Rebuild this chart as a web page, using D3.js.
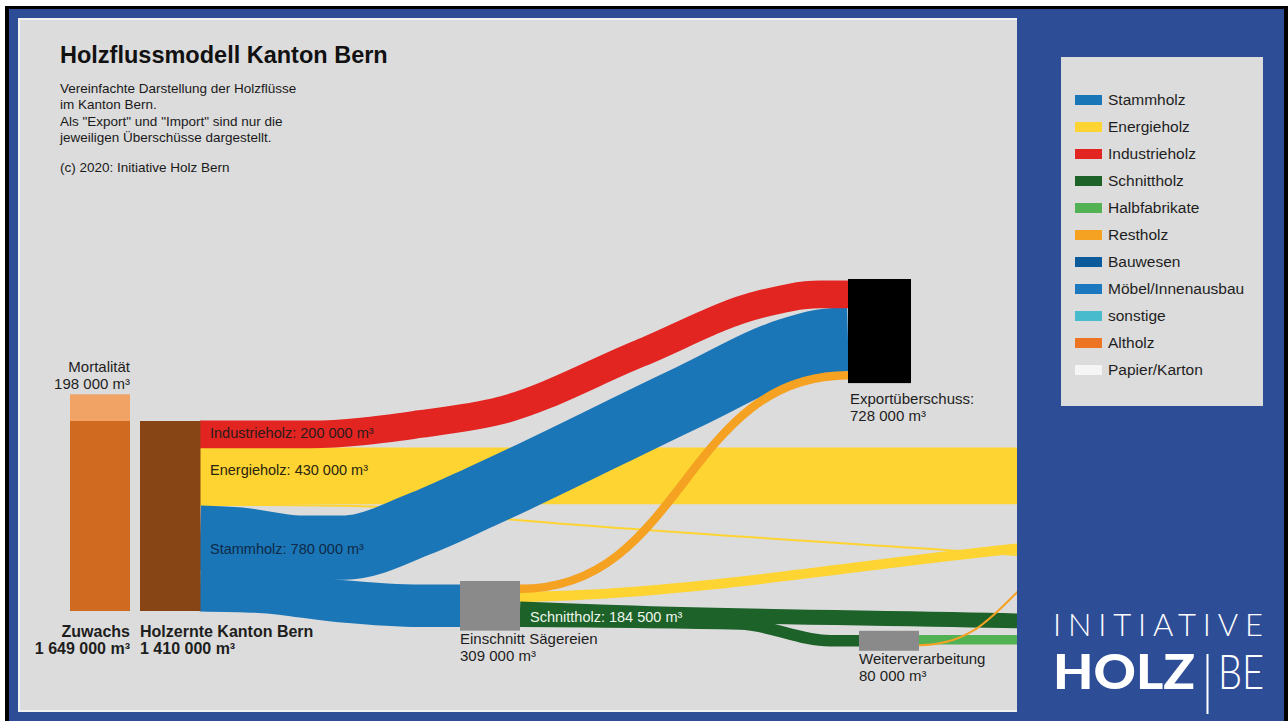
<!DOCTYPE html>
<html><head><meta charset="utf-8">
<script src="https://cdn.jsdelivr.net/npm/d3@7/dist/d3.min.js"></script>
<style>html,body{margin:0;padding:0;background:#fff;overflow:hidden}</style>
</head><body>
<svg id="c" width="1288" height="721"></svg>
<script>
// ---------------- DATA ----------------
const titleText = "Holzflussmodell Kanton Bern";
const subtitleLines = ["Vereinfachte Darstellung der Holzflüsse", "im Kanton Bern.", "Als \"Export\" und \"Import\" sind nur die", "jeweiligen Überschüsse dargestellt."];
const creditText = "(c) 2020: Initiative Holz Bern";

const nodeIds    = ["zuwachs", "ernte", "saege", "weiter", "export"];
const nodeNames  = ["Zuwachs", "Holzernte Kanton Bern", "Einschnitt Sägereien", "Weiterverarbeitung", "Exportüberschuss:"];
const nodeValues = [1649000, 1410000, 309000, 80000, 728000];
const mortalityLabel = "Mortalität";
const mortalityValue = 198000;

const flowSources    = ["ernte", "ernte", "ernte", "ernte", "ernte", "saege", "saege", "saege", "saege", "weiter", "weiter"];
const flowTargets    = ["export", "out", "out", "export", "saege", "export", "out", "out", "weiter", "out", "out"];
const flowCategories = ["Industrieholz", "Energieholz", "Energieholz", "Stammholz", "Stammholz", "Restholz", "Energieholz", "Schnittholz", "Schnittholz", "Halbfabrikate", "Restholz"];
const flowValues     = [200000, 415000, 15000, 471000, 309000, 57000, 67500, 104500, 80000, 65000, 15000];

const legendLabels = ["Stammholz", "Energieholz", "Industrieholz", "Schnittholz", "Halbfabrikate", "Restholz", "Bauwesen", "Möbel/Innenausbau", "sonstige", "Altholz", "Papier/Karton"];
const legendColors = ["#1b76b8", "#fdd431", "#e32522", "#1d6229", "#52b153", "#f5a122", "#0b5a9c", "#1c78be", "#48bccc", "#ec7422", "#f5f5f5"];

// ---------------- LAYOUT ----------------
const FONT = "'Liberation Sans', Arial, Helvetica, sans-serif";
const colorOf = d3.scaleOrdinal().domain(legendLabels).range(legendColors);
const thick = d3.scaleLinear().domain([0, 1410000]).range([0, 190]);
const fmtNum = d3.formatLocale({decimal: ".", thousands: " ", grouping: [3], currency: ["", ""]}).format(",d");
const vol = v => fmtNum(v) + " m³";
const val = id => nodeValues[nodeIds.indexOf(id)];
const name = id => nodeNames[nodeIds.indexOf(id)];

const baseY = 611;
const nodeBox = {
  zuwachs: {x: 70,  w: 60},
  ernte:   {x: 140, w: 60},
  saege:   {x: 460, w: 60, port: 585,   padT: 4,   padB: 4},
  weiter:  {x: 859, w: 60, port: 635.4, padT: 4.6, padB: 4.6},
  export:  {x: 848, w: 63, port: 281,   padT: 2,   padB: 4}
};
nodeBox.ernte.port = baseY - thick(val("ernte"));

// route shapes (x position, fraction of way from source level to target level)
const routes = [
  {knots: [[310, 0], [420, 0.074], [500, 0.17], [640, 0.58], [760, 0.93], [820, 1]]},
  {end: [1100, 0]},
  {end: [1100, 56], knots: [[300, 0.005], [370, 0.03], [505, 0.251], [1017, 0.893]]},
  {knots: [[240, -0.01], [300, -0.05], [345, -0.05], [420, 0.07], [480, 0.204], [690, 0.714], [790, 0.949], [825, 0.994]]},
  {knots: [[260, 0.1], [340, 0.7], [420, 1]]},
  {bump: true},
  {end: [1100, -57], knots: [[570, 0.031], [1017, 0.855]]},
  {end: [1100, 14], knots: [[600, 0.225], [1017, 0.859]]},
  {knots: [[740, 0.14], [830, 1]]},
  {end: [1100, 0]},
  {end: [1100, -91], bump: true}
];
const drawOrder = [2, 1, 4, 3, 0, 6, 7, 8, 5, 9, 10];

// ---------------- DRAW ----------------
const svg = d3.select("#c");
svg.append("rect").attr("width", 1288).attr("height", 721).attr("fill", "#fff");
svg.append("rect").attr("x", 5).attr("y", 6).attr("width", 1283).attr("height", 715).attr("fill", "#000");
svg.append("rect").attr("x", 9).attr("y", 9).attr("width", 1275).attr("height", 712).attr("fill", "#2e4d97");
svg.append("rect").attr("x", 18).attr("y", 18).attr("width", 999).attr("height", 694).attr("fill", "#f0f0f0");
svg.append("rect").attr("x", 20).attr("y", 20).attr("width", 997).attr("height", 690).attr("fill", "#dcdcdc");

svg.append("defs").append("clipPath").attr("id", "panel")
  .append("rect").attr("x", 20).attr("y", 20).attr("width", 997).attr("height", 690);

// title block
svg.append("text").attr("x", 60).attr("y", 63).attr("font-family", FONT).attr("font-size", 23.5)
  .attr("font-weight", "bold").attr("fill", "#111").text(titleText);
svg.append("g").selectAll("text").data(subtitleLines).join("text")
  .attr("x", 60).attr("y", (d, i) => 93 + i * 16.3).attr("font-family", FONT).attr("font-size", 13.5)
  .attr("fill", "#1a1a1a").text(d => d);
svg.append("text").attr("x", 60).attr("y", 172).attr("font-family", FONT).attr("font-size", 13.5)
  .attr("fill", "#1a1a1a").text(creditText);

// compute ports
const outOff = {}, inOff = {};
const flows = flowValues.map((v, i) => {
  const s = flowSources[i], t = flowTargets[i];
  const w = thick(v);
  const sb = nodeBox[s];
  const so = outOff[s] || 0; outOff[s] = so + w;
  const x0 = sb.x + sb.w, y0 = sb.port + so + w / 2;
  let x1, y1;
  if (t === "out") {
    x1 = routes[i].end[0]; y1 = y0 + routes[i].end[1];
  } else {
    const tb = nodeBox[t];
    const to = inOff[t] || 0; inOff[t] = to + w;
    x1 = tb.x; y1 = tb.port + to + w / 2;
  }
  return {i, v, w, x0, y0, x1, y1, color: colorOf(flowCategories[i])};
});

const line = d3.line().curve(d3.curveMonotoneX);
const link = d3.linkHorizontal();
const flowG = svg.append("g").attr("clip-path", "url(#panel)");
drawOrder.forEach(i => {
  const f = flows[i], r = routes[i];
  let d;
  if (r.bump) {
    d = link({source: [f.x0, f.y0], target: [f.x1, f.y1]});
  } else {
    const pts = [[f.x0, f.y0]];
    (r.knots || []).forEach(([x, fr]) => pts.push([x, f.y0 + fr * (f.y1 - f.y0)]));
    pts.push([f.x1, f.y1]);
    d = line(pts);
  }
  // small overlap hides anti-aliasing seams between adjacent bands
  flowG.append("path").attr("d", d).attr("fill", "none").attr("stroke", f.color)
    .attr("stroke-width", f.w + (f.w > 4 ? 0.8 : 0)).attr("stroke-linecap", "butt");
});

// nodes
const ernteTop = nodeBox.ernte.port;
const mortH = thick(mortalityValue);
svg.append("rect").attr("x", nodeBox.zuwachs.x).attr("y", ernteTop).attr("width", nodeBox.zuwachs.w)
  .attr("height", baseY - ernteTop).attr("fill", "#d06a20");
svg.append("rect").attr("x", nodeBox.zuwachs.x).attr("y", ernteTop - mortH).attr("width", nodeBox.zuwachs.w)
  .attr("height", mortH).attr("fill", "#f1a366");
svg.append("rect").attr("x", nodeBox.ernte.x).attr("y", ernteTop).attr("width", nodeBox.ernte.w + 0.5)
  .attr("height", baseY - ernteTop).attr("fill", "#874515");

["saege", "weiter", "export"].forEach(id => {
  const b = nodeBox[id];
  svg.append("rect").attr("x", b.x).attr("y", b.port - b.padT).attr("width", b.w)
    .attr("height", thick(val(id)) + b.padT + b.padB).attr("fill", id === "export" ? "#000" : "#8a8a8a");
});

// node labels
function label(x, y, lines, opts = {}) {
  const t = svg.append("text").attr("x", x).attr("y", y).attr("font-family", FONT)
    .attr("font-size", opts.size || 15).attr("fill", opts.fill || "#1e1e1e")
    .attr("font-weight", opts.bold ? "bold" : "normal").attr("text-anchor", opts.anchor || "start");
  lines.forEach((l, k) => t.append("tspan").attr("x", x).attr("dy", k === 0 ? 0 : 17).text(l));
}
const zTop = ernteTop - mortH;
label(130, zTop - 22, [mortalityLabel, vol(mortalityValue)], {anchor: "end"});
label(130, 637, [name("zuwachs"), vol(val("zuwachs"))], {anchor: "end", bold: true, size: 16});
label(140, 637, [name("ernte"), vol(val("ernte"))], {bold: true, size: 16});
label(nodeBox.saege.x, 644, [name("saege"), vol(val("saege"))]);
label(nodeBox.weiter.x, 664, [name("weiter"), vol(val("weiter"))]);
label(nodeBox.export.x + 2, 404, [name("export"), vol(val("export"))]);

// band labels (totals per category leaving a node)
const catTotal = (src, cat) => d3.sum(flowValues.filter((v, i) => flowSources[i] === src && flowCategories[i] === cat));
const firstFlow = (src, cat) => flows.find(f => flowSources[f.i] === src && flowCategories[f.i] === cat);
[["ernte", "Industrieholz", 17, "#2a1a1a"], ["ernte", "Energieholz", 27, "#2a2410"], ["ernte", "Stammholz", 48, "#0e2a45"], ["saege", "Schnittholz", 20.5, "#eef5ee"]]
  .forEach(([src, cat, off, col]) => {
    const f = firstFlow(src, cat);
    const top = f.y0 - f.w / 2;
    label(f.x0 + 10, top + off, [cat + ": " + vol(catTotal(src, cat))], {fill: col, size: 14.5});
  });

// legend
svg.append("rect").attr("x", 1061).attr("y", 57).attr("width", 202).attr("height", 349).attr("fill", "#dcdcdc");
const lg = svg.append("g").selectAll("g").data(legendLabels).join("g")
  .attr("transform", (d, i) => `translate(1075,${95 + i * 27})`);
lg.append("rect").attr("width", 27).attr("height", 10).attr("fill", d => colorOf(d));
lg.append("text").attr("x", 33).attr("y", 9.5).attr("font-family", FONT).attr("font-size", 15.5)
  .attr("fill", "#1e1e1e").text(d => d);

// logo
svg.append("text").attr("x", 1053).attr("y", 636).attr("font-family", "Lato, Roboto, sans-serif")
  .attr("font-weight", 300).attr("font-size", 31).attr("fill", "#fff")
  .attr("textLength", 210).attr("lengthAdjust", "spacing").text("INITIATIVE");
svg.append("text").attr("x", 1053).attr("y", 689).attr("font-family", "Lato, Roboto, sans-serif")
  .attr("font-weight", 900).attr("font-size", 48).attr("fill", "#fff")
  .attr("textLength", 142).attr("lengthAdjust", "spacingAndGlyphs").text("HOLZ");
svg.append("rect").attr("x", 1206.5).attr("y", 654).attr("width", 2).attr("height", 60).attr("fill", "#fff");
svg.append("text").attr("x", 1218).attr("y", 689).attr("font-family", "Lato, Roboto, sans-serif")
  .attr("font-weight", 300).attr("font-size", 48).attr("fill", "#fff")
  .attr("textLength", 46).attr("lengthAdjust", "spacingAndGlyphs").text("BE");
</script>
</body></html>
